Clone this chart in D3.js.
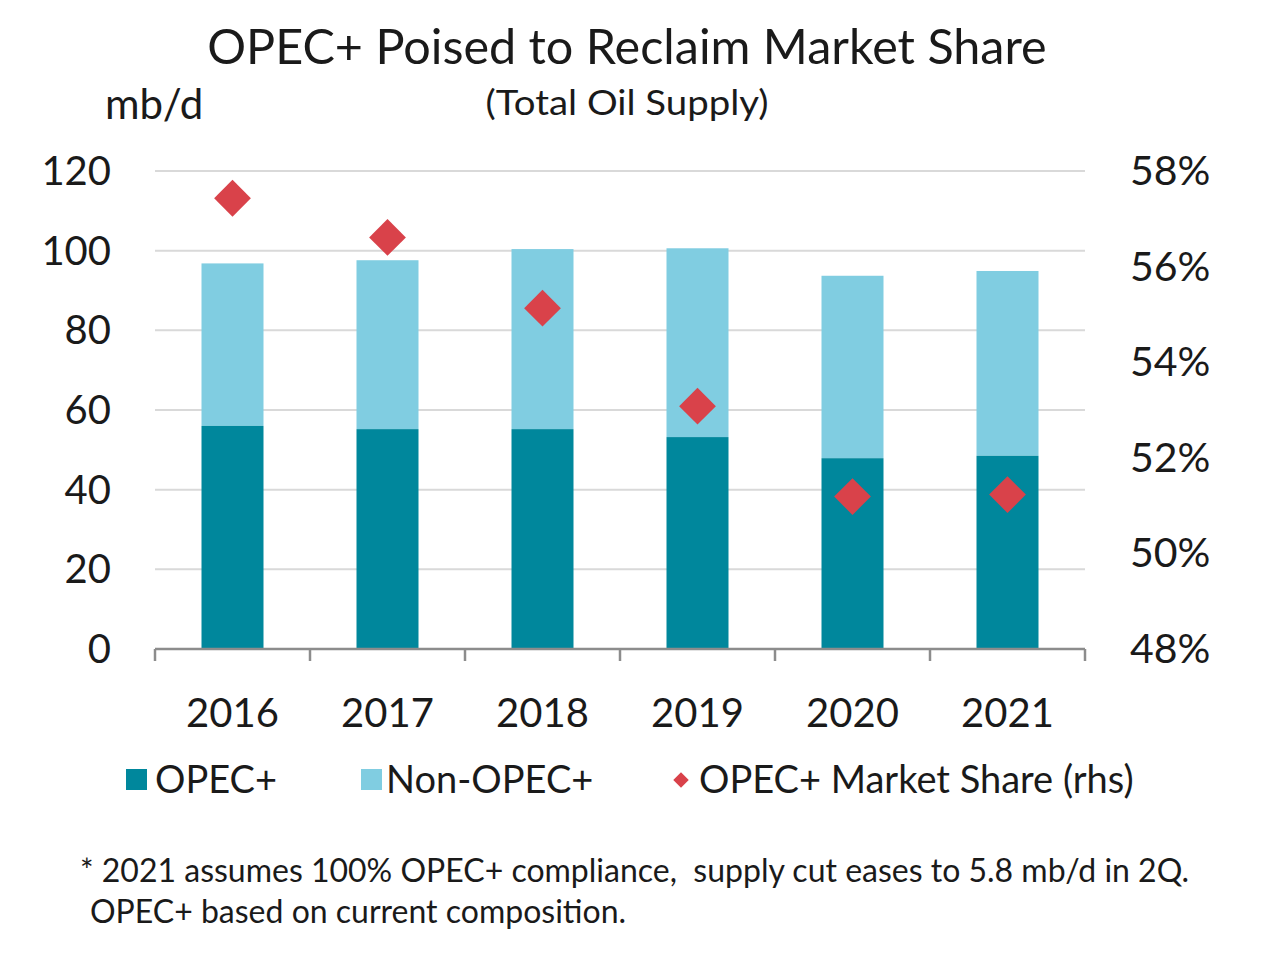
<!DOCTYPE html>
<html><head><meta charset="utf-8">
<script src="https://cdn.jsdelivr.net/npm/d3@7"></script>
<style>
html,body{margin:0;padding:0;background:#fff;}
svg{display:block;font-family:Lato, "Open Sans", sans-serif;}
</style></head>
<body>
<svg id="chart" width="1280" height="963"></svg>
<script>
const years = ["2016","2017","2018","2019","2020","2021"];
const opecPlus = [56.0, 55.2, 55.2, 53.2, 47.9, 48.5];
const totalSupply = [96.8, 97.6, 100.4, 100.6, 93.7, 94.9];
const marketShare = [57.43, 56.61, 55.13, 53.08, 51.19, 51.23];
const leftTicks = [0, 20, 40, 60, 80, 100, 120];
const rightTicks = [48, 50, 52, 54, 56, 58];

const svg = d3.select("#chart");
const pLeft = 155, pRight = 1085, pTop = 171, pBottom = 649;

const x = d3.scaleBand().domain(years).range([pLeft, pRight]).paddingInner(0.6).paddingOuter(0.3);
const yL = d3.scaleLinear().domain([0, 120]).range([pBottom, pTop]);
const yR = d3.scaleLinear().domain([48, 58]).range([pBottom, pTop]);

const colOpec = "#00879C", colNon = "#80CDE1", colRed = "#D9424A", txt = "#1a1a1a";

// gridlines
svg.append("g").selectAll("line").data(leftTicks.filter(d => d > 0)).join("line")
  .attr("x1", pLeft).attr("x2", pRight)
  .attr("y1", d => yL(d)).attr("y2", d => yL(d))
  .attr("stroke", "#d9d9d9").attr("stroke-width", 2);

// bars
const data = years.map((y, i) => ({year: y, opec: opecPlus[i], total: totalSupply[i], share: marketShare[i]}));
svg.append("g").selectAll("rect").data(data).join("rect")
  .attr("x", d => x(d.year)).attr("width", x.bandwidth())
  .attr("y", d => yL(d.total)).attr("height", d => yL(d.opec) - yL(d.total))
  .attr("fill", colNon);
svg.append("g").selectAll("rect").data(data).join("rect")
  .attr("x", d => x(d.year)).attr("width", x.bandwidth())
  .attr("y", d => yL(d.opec)).attr("height", d => yL(0) - yL(d.opec))
  .attr("fill", colOpec);

// diamonds
const diamond = d3.symbol().type(d3.symbolSquare).size(26 * 26);
svg.append("g").selectAll("path").data(data).join("path")
  .attr("d", diamond)
  .attr("transform", d => `translate(${x(d.year) + x.bandwidth() / 2},${yR(d.share)}) rotate(45)`)
  .attr("fill", colRed);

// x axis
const step = x.step();
const boundaries = d3.range(years.length + 1).map(i => pLeft + i * step);
const xa = svg.append("g");
xa.append("line").attr("x1", pLeft).attr("x2", pRight).attr("y1", pBottom).attr("y2", pBottom)
  .attr("stroke", "#8c8c8c").attr("stroke-width", 2.5);
xa.selectAll("line.tk").data(boundaries).join("line").attr("class", "tk")
  .attr("x1", d => d).attr("x2", d => d).attr("y1", pBottom).attr("y2", pBottom + 12)
  .attr("stroke", "#8c8c8c").attr("stroke-width", 2.5);
xa.selectAll("text").data(years).join("text")
  .attr("x", d => x(d) + x.bandwidth() / 2).attr("y", 727)
  .attr("text-anchor", "middle").attr("font-size", 40).attr("fill", txt).text(d => d);

// left axis labels
svg.append("g").selectAll("text").data(leftTicks).join("text")
  .attr("x", 111).attr("y", d => yL(d) + 14)
  .attr("text-anchor", "end").attr("font-size", 40).attr("fill", txt).text(d => d);

// right axis labels
svg.append("g").selectAll("text").data(rightTicks).join("text")
  .attr("x", 1130).attr("y", d => yR(d) + 14)
  .attr("text-anchor", "start").attr("font-size", 41).attr("fill", txt).text(d => d + "%");

// titles
svg.append("text").attr("x", 627).attr("y", 64).attr("text-anchor", "middle")
  .attr("font-size", 48.5).attr("fill", txt).text("OPEC+ Poised to Reclaim Market Share");
svg.append("text").attr("x", 627).attr("y", 115).attr("text-anchor", "middle")
  .attr("font-size", 35).attr("fill", txt)
  .attr("textLength", 283).attr("lengthAdjust", "spacingAndGlyphs").text("(Total Oil Supply)");
svg.append("text").attr("x", 105).attr("y", 119).attr("text-anchor", "start")
  .attr("font-size", 42).attr("fill", txt).text("mb/d");

// legend
const lg = svg.append("g");
lg.append("rect").attr("x", 126).attr("y", 769).attr("width", 21).attr("height", 21).attr("fill", colOpec);
lg.append("text").attr("x", 155).attr("y", 793).attr("font-size", 38).attr("fill", txt).text("OPEC+");
lg.append("rect").attr("x", 361).attr("y", 769).attr("width", 21).attr("height", 21).attr("fill", colNon);
lg.append("text").attr("x", 386).attr("y", 793).attr("font-size", 38).attr("fill", txt).text("Non-OPEC+");
lg.append("path").attr("d", d3.symbol().type(d3.symbolSquare).size(11 * 11))
  .attr("transform", "translate(681,780) rotate(45)").attr("fill", colRed);
lg.append("text").attr("x", 699).attr("y", 793).attr("font-size", 38).attr("fill", txt).text("OPEC+ Market Share (rhs)");

// footnote
svg.append("text").attr("x", 80).attr("y", 882).attr("font-size", 32).attr("fill", txt)
  .attr("xml:space", "preserve").style("white-space", "pre")
  .text("* 2021 assumes 100% OPEC+ compliance,  supply cut eases to 5.8 mb/d in 2Q.");
svg.append("text").attr("x", 90).attr("y", 923).attr("font-size", 32).attr("fill", txt)
  .text("OPEC+ based on current composition.");
</script>
</body></html>
